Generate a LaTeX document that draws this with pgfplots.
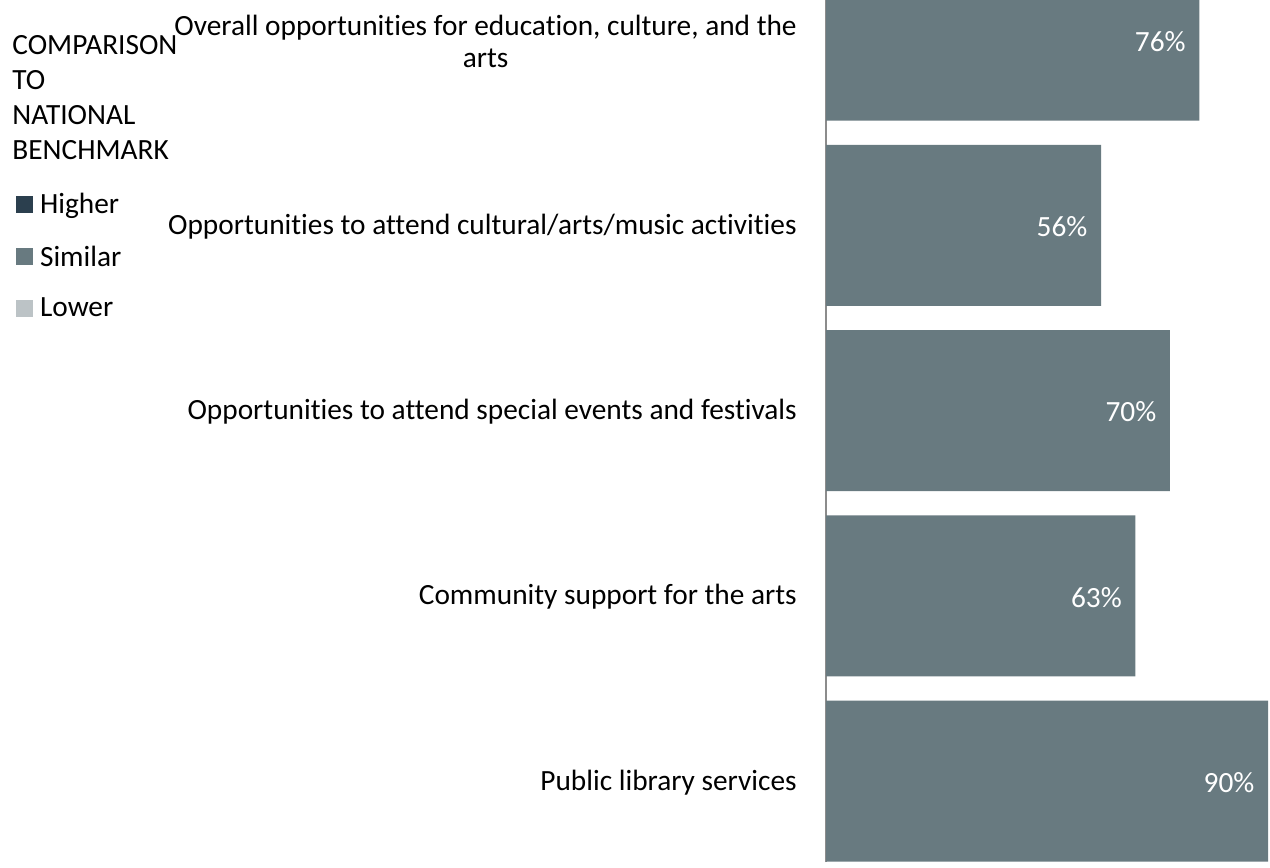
\documentclass[border=0pt]{standalone}
\usepackage{pgfplots}
\pgfplotsset{compat=1.18}
\usepackage{pgfplotstable}
\usepackage{fontspec}
\setmainfont{Carlito}[Ligatures={NoCommon}]
\definecolor{higher}{HTML}{2B3F4E}
\definecolor{similar}{HTML}{687A80}
\definecolor{lower}{HTML}{BCC3C6}
\definecolor{axgray}{HTML}{8C8C8C}
\newcommand\fs{\fontsize{22}{24}\selectfont}
\pgfplotstableread{
y val
4 76
3 56
2 70
1 63
0 90
}\datatable
\begin{document}
\begin{tikzpicture}[font=\fs]
\useasboundingbox (0,0) rectangle (952.5pt,650.25pt);
\begin{axis}[
  at={(619.5pt,3.75pt)}, anchor=south west,
  scale only axis, width=333pt, height=646.5pt,
  clip mode=individual,
  xmin=0, xmax=90.4, ymin=-0.437, ymax=4.216,
  axis x line=none, axis y line*=left,
  y axis line style={draw=axgray, line width=1pt},
  ytick={0,1,2,3,4},
  yticklabels={Public library services, Community support for the arts, Opportunities to attend special events and festivals, Opportunities to attend cultural/arts/music activities, {Overall opportunities for education, culture, and the\\arts}},
  major tick length=0pt,
  yticklabel style={font=\fs, align=center, inner sep=0pt, anchor=east, xshift=-21.75pt, yshift=-1pt},
  xbar, bar width=0.869,
  point meta=x,
  /pgf/number format/assume math mode=true,
  nodes near coords={\pgfmathprintnumber{\pgfplotspointmeta}\%},
  nodes near coords style={font=\fs, white, anchor=east, inner sep=0pt, xshift=-10pt, yshift=-1pt},
  legend style={at={(-1.824,0.776)}, anchor=north west, draw=none, fill=none, font=\fs,
    row sep=22.5pt, inner sep=0pt, nodes={inner sep=0pt, anchor=west}},
  legend cell align=left,
  legend image code/.code={\fill[#1] (0pt,-6.4pt) rectangle (12.75pt,6.4pt);},
]
\addlegendimage{fill=higher, draw=none}
\addplot[fill=similar, draw=none] table[x=val,y=y]{\datatable};
\addlegendimage{fill=lower, draw=none}
\legend{\hspace{5pt}Higher, \hspace{5pt}Similar, \hspace{5pt}Lower}
\node[anchor=north west, align=left, inner sep=0pt, font=\fontsize{22}{26.25}\selectfont] at (axis description cs:-1.833,0.959) {COMPARISON\\TO\\NATIONAL\\BENCHMARK};
\end{axis}
\end{tikzpicture}
\end{document}
